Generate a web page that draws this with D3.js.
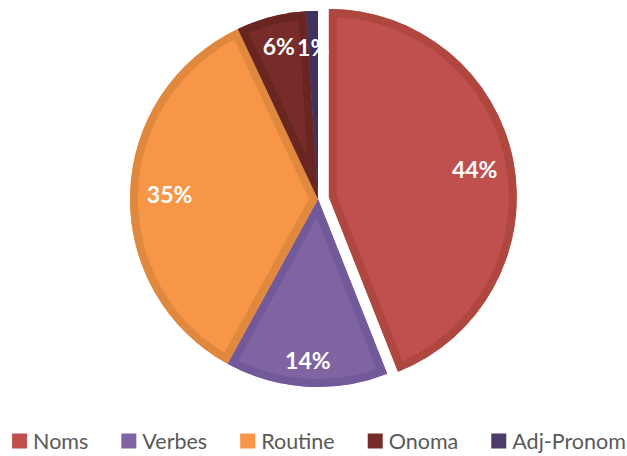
<!DOCTYPE html>
<html>
<head>
<meta charset="utf-8">
<script src="https://cdn.jsdelivr.net/npm/d3@7"></script>
<style>
  body { margin: 0; background: #fff; }
  svg { display: block; }
</style>
</head>
<body>
<div id="chart"></div>
<script>
// data
const categories = ['Noms', 'Verbes', 'Routine', 'Onoma', 'Adj-Pronom'];
const values = [44, 14, 35, 6, 1];
const labels = ['44%', '14%', '35%', '6%', '1%'];
const fills = ['#C0504D', '#8064A2', '#F79646', '#772C2A', '#4D3B6B'];
const bands = ['#B0473F', '#72599A', '#E0883E', '#692522', '#41315D'];
const exploded = [true, false, false, false, false];
// label distance from centre, as a fraction of the radius (layout only)
const labelFrac = [0.79, 0.86, 0.79, 0.84, 0.81];

const width = 627;
const height = 456;
const cx = 318;
const cy = 199;
const radius = 188;
const explodeDist = 11;

const svg = d3.select('#chart').append('svg')
  .attr('width', width)
  .attr('height', height);

const pie = d3.pie().sort(null).value(d => d.value);
const arcs = pie(categories.map((c, i) => ({ name: c, value: values[i], idx: i })));
const arc = d3.arc().innerRadius(0).outerRadius(radius);

const defs = svg.append('defs');
const g = svg.append('g').attr('transform', `translate(${cx},${cy})`);

function offset(a) {
  if (!exploded[a.data.idx]) return [0, 0];
  const mid = (a.startAngle + a.endAngle) / 2;
  return [Math.sin(mid) * explodeDist, -Math.cos(mid) * explodeDist];
}

const slices = g.selectAll('.slice').data(arcs).enter().append('g')
  .attr('class', 'slice')
  .attr('transform', (d) => { const o = offset(d); return `translate(${o[0]},${o[1]})`; });

slices.each(function (d) {
  defs.append('clipPath').attr('id', `clip${d.data.idx}`)
    .append('path').attr('d', arc(d));
});

slices.append('path')
  .attr('d', arc)
  .attr('fill', d => fills[d.data.idx]);

// darker inner band along each slice edge
slices.append('path')
  .attr('d', arc)
  .attr('fill', 'none')
  .attr('stroke', d => bands[d.data.idx])
  .attr('stroke-width', 16)
  .attr('stroke-linejoin', 'miter')
  .attr('clip-path', d => `url(#clip${d.data.idx})`);

slices.append('text')
  .attr('transform', (d) => {
    const r = labelFrac[d.data.idx] * radius;
    const p = d3.arc().innerRadius(r).outerRadius(r).centroid(d);
    return `translate(${p[0]},${p[1]})`;
  })
  .attr('text-anchor', 'middle')
  .attr('dy', '0.38em')
  .attr('fill', '#fff')
  .style('font-family', 'Lato, "Open Sans", sans-serif')
  .style('font-weight', 'bold')
  .style('font-size', '23px')
  .text(d => labels[d.data.idx]);

// legend
const legend = svg.append('g').attr('class', 'legend');
const box = 15;
const gap = 6;
const itemGap = 33;
const items = legend.selectAll('.item').data(categories).enter().append('g').attr('class', 'item');
items.append('rect')
  .attr('width', box).attr('height', box)
  .attr('y', -box / 2)
  .attr('fill', (d, i) => fills[i]);
items.append('text')
  .attr('x', box + gap)
  .attr('y', 0)
  .attr('dy', '0.36em')
  .attr('fill', '#595959')
  .style('font-family', 'Lato, "Open Sans", sans-serif')
  .style('font-size', '21.5px')
  .text(d => d);
let x = 0;
const widths = [];
items.each(function () {
  widths.push(this.getBBox().width);
});
items.attr('transform', (d, i) => {
  const t = `translate(${x},0)`;
  x += widths[i] + itemGap;
  return t;
});
const total = x - itemGap;
legend.attr('transform', `translate(${319 - total / 2},${441})`);
</script>
</body>
</html>
